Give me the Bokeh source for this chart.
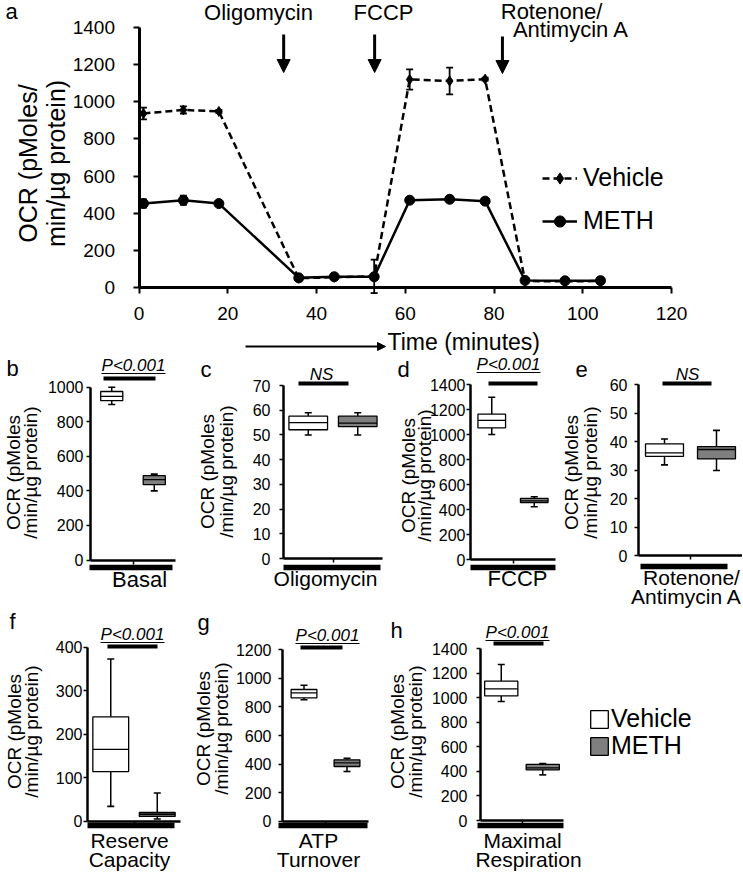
import math
from bokeh.plotting import figure
from bokeh.models import (Range1d, FixedTicker, Label, Arrow, NormalHead, Legend,
                          LegendItem, ColumnDataSource)
from bokeh.layouts import column, row
from bokeh.embed import file_html
from bokeh.resources import INLINE

FONT = "Liberation Sans"
GRAY = "#7f7f7f"

# ---------------- data: panel a (time course) ----------------
time_min = [1, 10, 18, 36, 44, 53, 61, 70, 78, 87, 96, 104]
vehicle_mean = [937, 956, 948, 50, 55, 60, 1120, 1112, 1122, 35, 33, 35]
vehicle_sem = [32, 19, 8, 8, 6, 90, 54, 72, 8, 5, 4, 4]
meth_mean = [452, 470, 452, 52, 58, 58, 470, 475, 465, 38, 36, 37]
meth_sem = [22, 25, 8, 6, 5, 10, 10, 15, 8, 4, 4, 4]
injection_times = [32.6, 53.1, 81.9]
time_ticks = [0, 20, 40, 60, 80, 100, 120]
ocr_ticks_a = [0, 200, 400, 600, 800, 1000, 1200, 1400]

# ---------------- data: box plots [min, q1, median, q3, max] ----------------
group_pos = [1, 2]            # Vehicle, METH
basal_vehicle = [900, 922, 947, 975, 1000]
basal_meth = [400, 436, 465, 488, 497]
oligo_vehicle = [50, 52.1, 55.0, 57.6, 59]
oligo_meth = [50, 53.4, 54.8, 57.6, 59]
fccp_vehicle = [1003, 1056, 1115, 1165, 1300]
fccp_meth = [425, 458, 472, 492, 505]
rot_vehicle = [31.8, 34.8, 36.0, 39.2, 40.9]
rot_meth = [29.8, 33.9, 37.2, 38.2, 43.9]
reserve_vehicle = [34, 114, 165, 240, 373]
reserve_meth = [5, 11, 16, 20, 65]
atp_vehicle = [850, 864, 899, 922, 952]
atp_meth = [348, 383, 409, 430, 441]
maxresp_vehicle = [970, 1016, 1073, 1136, 1272]
maxresp_meth = [372, 413, 429, 457, 465]


def make_panel(left, top, w, h, xanchor, yanchor):
    (px1, v1), (px2, v2) = xanchor
    kx = (v2 - v1) / (px2 - px1)
    (py1, u1), (py2, u2) = yanchor
    ky = (u2 - u1) / (py2 - py1)
    X = lambda px: v1 + (px - px1) * kx
    Y = lambda py: u1 + (py - py1) * ky
    p = figure(width=w, height=h, x_range=Range1d(X(left), X(left + w)),
               y_range=Range1d(Y(top + h), Y(top)), output_backend="svg",
               toolbar_location=None, min_border=0)
    p.title.visible = False
    p.outline_line_color = None
    p.grid.visible = False
    p.background_fill_color = "white"
    p.border_fill_color = "white"
    return p, X, Y


def style_axes(p, xb, xticks, xloc, yb, yticks, yloc, font, lw, xto, yto, ystand,
               xstand=0, xlabels=True, tick_w=1.5):
    xa, ya = p.xaxis[0], p.yaxis[0]
    for ax in (xa, ya):
        ax.axis_line_width = lw
        ax.axis_line_color = "black"
        ax.major_tick_line_color = "black"
        ax.major_tick_line_width = tick_w
        ax.major_tick_in = 0
        ax.minor_tick_in = 0
        ax.minor_tick_out = 0
        ax.major_label_text_font = FONT
        ax.major_label_text_font_size = font
        ax.major_label_text_color = "black"
    xa.fixed_location = xloc
    xa.bounds = xb
    xa.ticker = FixedTicker(ticks=xticks, minor_ticks=[])
    xa.major_tick_out = xto
    xa.major_label_standoff = xstand
    if not xlabels:
        xa.major_label_text_color = None
    ya.fixed_location = yloc
    ya.bounds = yb
    ya.ticker = FixedTicker(ticks=yticks, minor_ticks=[])
    ya.major_tick_out = yto
    ya.major_label_standoff = ystand


def txt(p, x, y_base, text, size, align="left", style="normal"):
    """y_base: page y of the text baseline; drawn with a 'middle' anchor."""
    p.add_layout(Label(x=x, y=y_base, text=text, text_font=FONT, text_font_size=f"{size}px",
                       text_align=align, text_baseline="middle", text_font_style=style,
                       text_color="black"))


def vtxt(p, x, y, text, size):
    p.add_layout(Label(x=x, y=y, text=text, text_font=FONT, text_font_size=f"{size}px",
                       text_align="center", text_baseline="middle", angle=math.pi / 2,
                       text_color="black"))


def base(Y, b, size):
    return Y(b - 0.35 * size)


# ======================= panel a =======================
pA, XA, YA = make_panel(0, 0, 742, 355, ((138.5, 0), (671, 120)), ((287, 0), (27, 1400)))
style_axes(pA, (0, 120), time_ticks, 0, (0, 1400), ocr_ticks_a, 0, "19px", 3, 6, 6, 18,
           xstand=13, tick_w=2)

srcV = ColumnDataSource(dict(t=time_min, y=vehicle_mean,
                             lo=[m - e for m, e in zip(vehicle_mean, vehicle_sem)],
                             hi=[m + e for m, e in zip(vehicle_mean, vehicle_sem)]))
srcM = ColumnDataSource(dict(t=time_min, y=meth_mean,
                             lo=[m - e for m, e in zip(meth_mean, meth_sem)],
                             hi=[m + e for m, e in zip(meth_mean, meth_sem)]))

rv_line = pA.line("t", "y", source=srcV, line_color="black", line_width=2.5, line_dash="7 4")
rm_line = pA.line("t", "y", source=srcM, line_color="black", line_width=2.5)
for src in (srcV, srcM):
    pA.segment(x0="t", y0="lo", x1="t", y1="hi", source=src, line_color="black", line_width=1.8)
    pA.scatter("t", "lo", source=src, marker="dash", size=7, line_color="black", line_width=1.8)
    pA.scatter("t", "hi", source=src, marker="dash", size=7, line_color="black", line_width=1.8)
rv_pts = pA.scatter("t", "y", source=srcV, marker="diamond", size=10, color="black")
rm_pts = pA.scatter("t", "y", source=srcM, marker="circle", size=10, color="black")

legA = Legend(items=[LegendItem(label="Vehicle", renderers=[rv_line, rv_pts]),
                     LegendItem(label="METH", renderers=[rm_line, rm_pts])],
              location=(542, 120), glyph_width=35, glyph_height=28, label_standoff=6,
              spacing=14, padding=0, margin=0, border_line_color=None,
              background_fill_alpha=0, label_text_font=FONT, label_text_font_size="25px",
              label_text_color="black")
pA.add_layout(legA)

arr_src = ColumnDataSource(dict(x=injection_times, y0=[YA(34), YA(34), YA(36)],
                                y1=[YA(72), YA(72), YA(73)]))
pA.add_layout(Arrow(end=NormalHead(size=13, fill_color="black", line_color="black"),
                    x_start="x", y_start="y0", x_end="x", y_end="y1", source=arr_src,
                    line_width=3, line_color="black"))
txt(pA, XA(258), base(YA, 20, 22), "Oligomycin", 22, align="center")
txt(pA, XA(383), base(YA, 20, 22), "FCCP", 22, align="center")
txt(pA, XA(551), base(YA, 19, 22), "Rotenone/", 22, align="center")
txt(pA, XA(570.5), base(YA, 37, 22), "Antimycin A", 22, align="center")
txt(pA, XA(5), base(YA, 19, 22), "a", 22)
vtxt(pA, XA(27), YA(163), "OCR (pMoles/", 25)
vtxt(pA, XA(55), YA(163), "min/µg protein)", 25)
pA.add_layout(Arrow(end=NormalHead(size=8, fill_color="black", line_color="black"),
                    x_start=XA(245), y_start=YA(346), x_end=XA(385), y_end=YA(346),
                    line_width=2, line_color="black"))
txt(pA, XA(387), base(YA, 350, 23), "Time (minutes)", 23)


# ======================= box panels =======================
def box_panel(left, top, w, h, xanchor, yanchor, yticks, ymax, stats_v, stats_m, bw,
              ystand, ylab_x, ylab_y, letter, letter_xy, sig_text, sig_xy, sig_bar,
              cat_lines, cat_bar, underline=None):
    p, X, Y = make_panel(left, top, w, h, xanchor, yanchor)
    style_axes(p, (0.5, 2.5), [1.5], 0, (0, ymax), yticks, 0.5, "16px", 2.5, 4, 4, ystand,
               xlabels=False, tick_w=1.5)
    rends = []
    for pos, st, col in zip(group_pos, (stats_v, stats_m), ("white", GRAY)):
        lo, q1, med, q3, hi = st
        src = ColumnDataSource(dict(x=[pos], lo=[lo], q1=[q1], med=[med], q3=[q3], hi=[hi],
                                    xl=[pos - bw / 2], xr=[pos + bw / 2]))
        p.segment(x0="x", y0="q3", x1="x", y1="hi", source=src, line_color="black", line_width=1.5)
        p.segment(x0="x", y0="q1", x1="x", y1="lo", source=src, line_color="black", line_width=1.5)
        p.scatter("x", "hi", source=src, marker="dash", size=7, line_color="black", line_width=1.6)
        p.scatter("x", "lo", source=src, marker="dash", size=7, line_color="black", line_width=1.6)
        r = p.vbar(x="x", width=bw, bottom="q1", top="q3", source=src, fill_color=col,
                   line_color="black", line_width=1.3)
        p.segment(x0="xl", y0="med", x1="xr", y1="med", source=src, line_color="black", line_width=1.3)
        rends.append(r)
    # category bar under the axis
    p.segment(x0=[X(cat_bar[0])], y0=[Y(cat_bar[2])], x1=[X(cat_bar[1])], y1=[Y(cat_bar[2])],
              line_color="black", line_width=5.5)
    # significance bar
    p.segment(x0=[X(sig_bar[0])], y0=[Y(sig_bar[2])], x1=[X(sig_bar[1])], y1=[Y(sig_bar[2])],
              line_color="black", line_width=4)
    if underline:
        p.segment(x0=[X(underline[0])], y0=[Y(underline[2])], x1=[X(underline[1])],
                  y1=[Y(underline[2])], line_color="black", line_width=1.2)
    txt(p, X(sig_xy[0]), base(Y, sig_xy[1], 17), sig_text, 17, align="center", style="italic")
    txt(p, X(letter_xy[0]), base(Y, letter_xy[1], 22), letter, 22)
    vtxt(p, X(ylab_x[0]), Y(ylab_y), "OCR (pMoles", 19)
    vtxt(p, X(ylab_x[1]), Y(ylab_y), "/min/µg protein)", 19)
    for (cx, by, t, fs) in cat_lines:
        txt(p, X(cx), base(Y, by, fs), t, fs, align="center")
    return p, X, Y, rends


# row b-e : page y 355 -> 608
pb, _, _, _ = box_panel(0, 355, 185, 253, ((90, 0.5), (175, 2.5)), ((559.5, 0), (386.7, 1000)),
                        [0, 200, 400, 600, 800, 1000], 1000, basal_vehicle, basal_meth, 0.52, 3,
                        (13, 30), 472, "b", (6, 376), "P<0.001", (133, 371), (103, 155, 378),
                        [(139, 587, "Basal", 22)], (89, 172, 567), underline=(101, 165, 373))
pc, _, _, _ = box_panel(185, 355, 203, 253, ((283, 0.5), (382, 2.5)), ((558, 0), (385, 70)),
                        [0, 10, 20, 30, 40, 50, 60, 70], 70, oligo_vehicle, oligo_meth, 0.78, 9,
                        (207, 226), 471, "c", (200, 377), "NS", (321, 380), (298, 348, 383),
                        [(325, 585, "Oligomycin", 21)], (283, 380, 567))
pd, _, _, _ = box_panel(388, 355, 172, 253, ((470, 0.5), (555, 2.5)), ((559.3, 0), (384.3, 1400)),
                        [0, 200, 400, 600, 800, 1000, 1200, 1400], 1400, fccp_vehicle, fccp_meth,
                        0.65, 1, (408, 424), 475, "d", (397, 377), "P<0.001", (508, 370),
                        (488, 537, 383), [(517, 586, "FCCP", 22)], (470, 555, 567),
                        underline=(476, 540, 372))
pe, _, _, _ = box_panel(560, 355, 182, 253, ((638, 0.5), (742, 2.5)), ((555, 0), (384, 60)),
                        [0, 10, 20, 30, 40, 50, 60], 60, rot_vehicle, rot_meth, 0.73, 7,
                        (571, 590), 472, "e", (575, 377), "NS", (687, 380), (662, 711, 383),
                        [(691, 584, "Rotenone/", 21), (686, 603, "Antimycin A", 21)], (640, 727, 566))

# row f-h : page y 608 -> 876
pf, _, _, _ = box_panel(0, 608, 188, 268, ((87, 0.5), (180, 2.5)), ((820.7, 0), (646.7, 400)),
                        [0, 100, 200, 300, 400], 400, reserve_vehicle, reserve_meth, 0.77, 1,
                        (14, 31), 731, "f", (9, 629), "P<0.001", (132, 640), (107, 157, 646),
                        [(129, 847, "Reserve", 21), (129, 866.5, "Capacity", 21)], (87, 174, 825),
                        underline=(100, 164, 642))
pg, _, _, _ = box_panel(188, 608, 192, 268, ((282, 0.5), (368, 2.5)), ((820.7, 0), (649.3, 1200)),
                        [0, 200, 400, 600, 800, 1000, 1200], 1200, atp_vehicle, atp_meth, 0.6, 7,
                        (203, 221), 728, "g", (197, 630), "P<0.001", (327, 641), (300, 342, 647),
                        [(318, 847, "ATP", 21), (318, 866.5, "Turnover", 21)], (278, 367, 825),
                        underline=(295, 359, 643))
ph, XH, YH, hrend = box_panel(380, 608, 362, 268, ((480, 0.5), (563, 2.5)), ((820, 0), (648.3, 1400)),
                              [0, 200, 400, 600, 800, 1000, 1200, 1400], 1400, maxresp_vehicle,
                              maxresp_meth, 0.8, 9, (397, 415), 731, "h", (390, 638), "P<0.001",
                              (517, 638), (493, 543, 643),
                              [(522, 847, "Maximal", 21), (528, 866.5, "Respiration", 21)],
                              (477, 563, 825), underline=(485, 549, 640))

for lab, rend, loc in (("Vehicle", hrend[0], (208, 143)), ("METH", hrend[1], (208, 116))):
    lg = Legend(items=[LegendItem(label=lab, renderers=[rend])], location=loc,
                glyph_width=22, glyph_height=22, label_standoff=1, padding=0, margin=0,
                border_line_color=None, background_fill_alpha=0, label_text_font=FONT,
                label_text_font_size="25px", label_text_color="black")
    ph.add_layout(lg)

layout = column(pA, row(pb, pc, pd, pe), row(pf, pg, ph))
open("out.html", "w").write(file_html(layout, INLINE))
